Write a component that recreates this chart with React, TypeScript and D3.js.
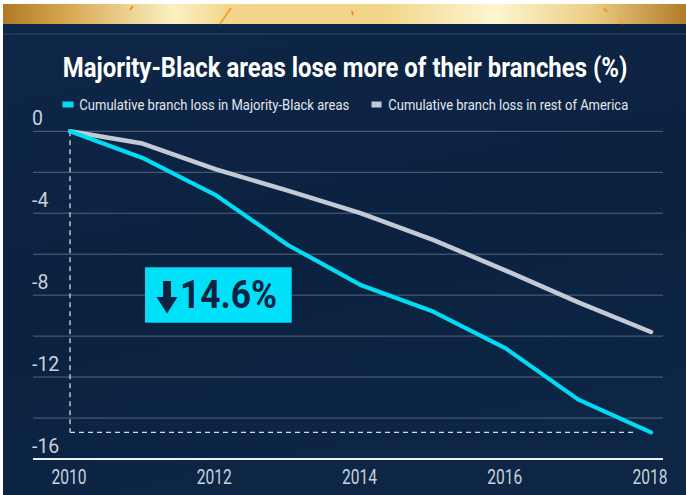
import React, { useLayoutEffect, useRef, useState } from "react";
import * as d3 from "d3";

const years = [2010, 2011, 2012, 2013, 2014, 2015, 2016, 2017, 2018];
const majorityBlack = [0, -1.3, -3.1, -5.55, -7.5, -8.8, -10.6, -13.1, -14.7];
const restOfAmerica = [0, -0.6, -1.85, -2.9, -4.0, -5.3, -6.8, -8.35, -9.8];
const yTickLabels = [0, -4, -8, -12, -16];
const gridValues = [0, -2, -4, -6, -8, -10, -12, -14];
const xTickLabels = [2010, 2012, 2014, 2016, 2018];

const titleText = "Majority-Black areas lose more of their branches (%)";
const legendLabels = [
  "Cumulative branch loss in Majority-Black areas",
  "Cumulative branch loss in rest of America",
];
const annotationText = "14.6%";

const W = 686;
const H = 495;
const CYAN = "#00dcf5";
const GREY = "#c3cad5";
const NAVY = "#0c2342";
const FONT = "Roboto, 'Open Sans', sans-serif";

type FitProps = {
  x: number;
  y: number;
  width: number;
  anchor?: "start" | "middle";
  children: React.ReactNode;
  [k: string]: any;
};

function FitText({ x, y, width, anchor = "start", children, ...rest }: FitProps) {
  const ref = useRef<SVGTextElement>(null);
  const [k, setK] = useState(1);
  useLayoutEffect(() => {
    if (ref.current) {
      const w = ref.current.getComputedTextLength();
      if (w > 0) setK(width / w);
    }
  }, [width, children]);
  return (
    <g transform={`translate(${x},${y}) scale(${k},1)`}>
      <text ref={ref} x={0} y={0} textAnchor={anchor} {...rest}>
        {children}
      </text>
    </g>
  );
}

export default function App() {
  const x = d3.scaleLinear().domain([2010, 2018]).range([70, 651]);
  const y = d3.scaleLinear().domain([0, -16]).range([131.3, 459]);
  const line = d3
    .line<number>()
    .x((_, i) => x(years[i]))
    .y((d) => y(d));

  const lastY = y(majorityBlack[majorityBlack.length - 1]);

  return (
    <svg
      width={W}
      height={H}
      style={{ position: "absolute", left: 0, top: 0, display: "block" }}
    >
      <defs>
        <linearGradient id="gold" x1="0" x2="1" y1="0" y2="0">
          <stop offset="0" stopColor="#b07a26" />
          <stop offset="0.1" stopColor="#d9aa55" />
          <stop offset="0.25" stopColor="#fbf1c3" />
          <stop offset="0.33" stopColor="#f3d68c" />
          <stop offset="0.55" stopColor="#f1d487" />
          <stop offset="0.72" stopColor="#fdf6d0" />
          <stop offset="0.86" stopColor="#ecce85" />
          <stop offset="1" stopColor="#b27b29" />
        </linearGradient>
        <linearGradient id="navy" x1="0" x2="0.3" y1="0" y2="1">
          <stop offset="0" stopColor="#0e2748" />
          <stop offset="0.6" stopColor="#0b2140" />
          <stop offset="1" stopColor="#0d2645" />
        </linearGradient>
      </defs>

      <rect x={0} y={0} width={W} height={H} fill="#ffffff" />
      <rect x={3} y={4} width={W - 3} height={H - 4} fill="url(#navy)" />
      <rect x={3} y={4} width={W - 3} height={20} fill="url(#gold)" />
      {/* confetti */}
      <line x1={130} y1={10} x2={133} y2={6} stroke="#f0902a" strokeWidth={2} />
      <line x1={220} y1={24} x2={231} y2={8} stroke="#f5a030" strokeWidth={2} />
      <line x1={352} y1={11} x2={353} y2={15} stroke="#f0902a" strokeWidth={2} />
      <line x1={604} y1={8} x2={607} y2={12} stroke="#f0902a" strokeWidth={2} />
      <line x1={620} y1={20} x2={623} y2={24} stroke="#f0a030" strokeWidth={2} />
      <line x1={3} y1={34} x2={W} y2={34} stroke="#2c4668" strokeWidth={1} />

      {/* title */}
      <FitText
        x={62.7}
        y={77}
        width={565}
        fill="#ffffff"
        fontFamily={FONT}
        fontWeight={700}
        fontSize={27}
      >
        {titleText}
      </FitText>

      {/* legend */}
      <rect x={62.5} y={101.5} width={11} height={6} fill={CYAN} />
      <FitText
        x={79.3}
        y={110}
        width={270}
        fill="#e4e8ee"
        fontFamily={FONT}
        fontSize={15}
      >
        {legendLabels[0]}
      </FitText>
      <rect x={371.5} y={101.5} width={10} height={6} fill={GREY} />
      <FitText
        x={388.3}
        y={110}
        width={240}
        fill="#e4e8ee"
        fontFamily={FONT}
        fontSize={15}
      >
        {legendLabels[1]}
      </FitText>

      {/* gridlines */}
      {gridValues.map((v) => (
        <line
          key={v}
          x1={33}
          x2={663}
          y1={y(v)}
          y2={y(v)}
          stroke="#56657c"
          strokeWidth={1}
        />
      ))}
      <line x1={33} x2={663} y1={y(-16)} y2={y(-16)} stroke="#eef0f3" strokeWidth={2} />

      {/* y labels */}
      {yTickLabels.map((v) => (
        <text
          key={v}
          x={32}
          y={y(v) - 6.5}
          fill="#c9d1dc"
          fontFamily={FONT}
          fontSize={19.5}
        >
          {v}
        </text>
      ))}

      {/* x labels */}
      {xTickLabels.map((v) => (
        <FitText
          key={v}
          x={x(v) - 1}
          y={484}
          width={35}
          anchor="middle"
          fill="#c9d1dc"
          fontFamily={FONT}
          fontSize={19.5}
        >
          {v}
        </FitText>
      ))}

      {/* dashed guides */}
      <line
        x1={x(2010)}
        x2={x(2010)}
        y1={y(0)}
        y2={lastY}
        stroke="#d4dae2"
        strokeWidth={1.3}
        strokeDasharray="5,4"
      />
      <line
        x1={x(2010)}
        x2={x(2018) - 14}
        y1={lastY}
        y2={lastY}
        stroke="#d4dae2"
        strokeWidth={1.3}
        strokeDasharray="5,4"
      />

      {/* lines */}
      <path
        d={line(restOfAmerica) || ""}
        fill="none"
        stroke={GREY}
        strokeWidth={4.5}
        strokeLinejoin="round"
        strokeLinecap="round"
      />
      <path
        d={line(majorityBlack) || ""}
        fill="none"
        stroke={CYAN}
        strokeWidth={4.2}
        strokeLinejoin="round"
        strokeLinecap="round"
      />

      {/* annotation */}
      <rect x={145} y={267.3} width={146.7} height={55.4} fill="#00e0f8" />
      <path
        d="M163,281 L171,281 L171,297 L177.5,297 L167,313.5 L156.5,297 L163,297 Z"
        fill={NAVY}
      />
      <FitText
        x={180}
        y={308.3}
        width={97}
        fill={NAVY}
        fontFamily={FONT}
        fontWeight={700}
        fontSize={38}
      >
        {annotationText}
      </FitText>
    </svg>
  );
}
